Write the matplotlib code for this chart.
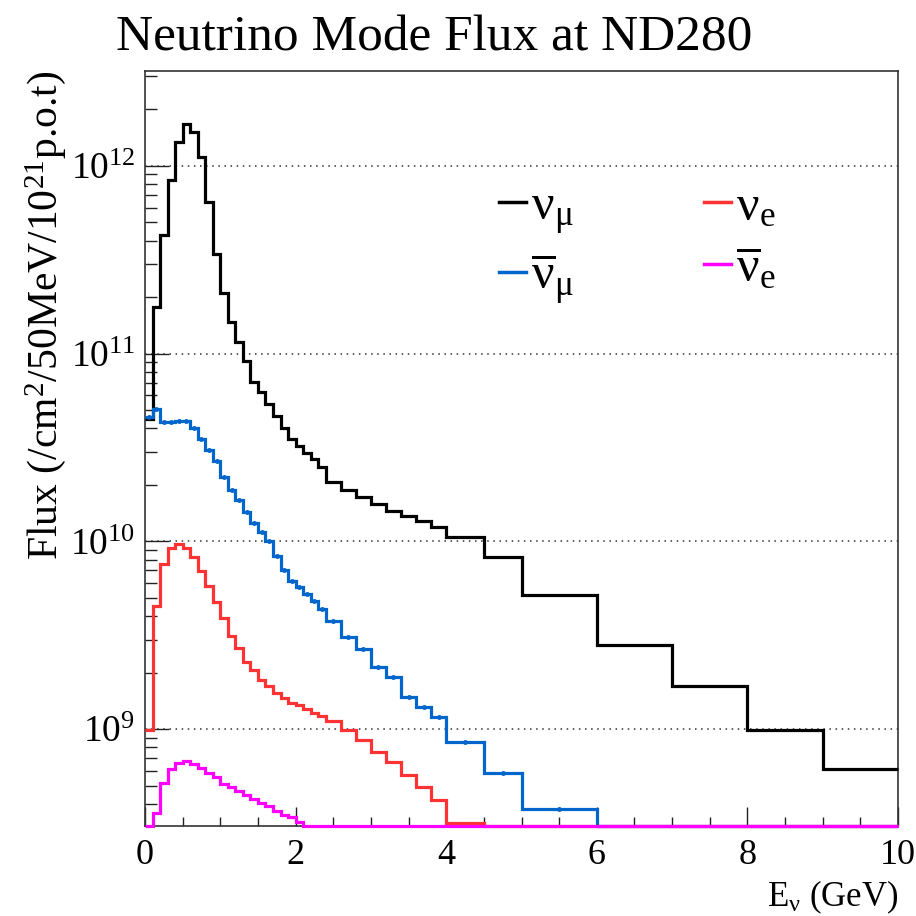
import matplotlib
matplotlib.use("Agg")
import matplotlib.pyplot as plt
from matplotlib.lines import Line2D
from matplotlib.ticker import LogLocator, MultipleLocator, NullFormatter
import numpy as np

plt.rcParams['font.family'] = ['Liberation Serif', 'DejaVu Serif']
plt.rcParams['mathtext.fontset'] = 'custom'
plt.rcParams['mathtext.rm'] = 'Liberation Serif'
plt.rcParams['mathtext.it'] = 'Liberation Serif:italic'

# bin edges (GeV)
edges = [0.0, 0.1, 0.2, 0.3, 0.4, 0.5, 0.6, 0.7, 0.8, 0.9, 1.0, 1.1, 1.2,
         1.3, 1.4, 1.5, 1.6, 1.7, 1.8, 1.9, 2.0, 2.1, 2.2, 2.3, 2.4, 2.6,
         2.8, 3.0, 3.2, 3.4, 3.6, 3.8, 4.0, 4.5, 5.0, 6.0, 7.0, 8.0, 9.0, 10.0]

# flux per bin (/cm2/50MeV/1e21 p.o.t)
numu = [4.46e10, 1.78e11, 4.30e11, 8.43e11, 1.34e12, 1.67e12, 1.52e12, 1.12e12,
        6.44e11, 3.40e11, 2.11e11, 1.48e11, 1.15e11, 9.18e10, 7.10e10, 6.28e10,
        5.36e10, 4.68e10, 4.04e10, 3.53e10, 3.24e10, 2.97e10, 2.76e10, 2.48e10,
        2.06e10, 1.87e10, 1.73e10, 1.59e10, 1.46e10, 1.36e10, 1.28e10, 1.19e10,
        1.06e10, 8.22e9, 5.16e9, 2.80e9, 1.69e9, 9.88e8, 6.12e8]
numubar = [4.57e10, 5.10e10, 4.35e10, 4.30e10, 4.40e10, 4.40e10, 4.04e10, 3.53e10,
           3.05e10, 2.67e10, 2.19e10, 1.87e10, 1.67e10, 1.44e10, 1.26e10, 1.12e10,
           1.00e10, 8.32e9, 7.01e9, 6.13e9, 5.69e9, 5.22e9, 4.80e9, 4.35e9,
           3.75e9, 3.08e9, 2.67e9, 2.14e9, 1.89e9, 1.48e9, 1.32e9, 1.16e9,
           8.53e8, 5.83e8, 3.75e8, 0, 0, 0, 0]
nue = [9.88e8, 4.51e9, 7.55e9, 9.18e9, 9.64e9, 9.18e9, 8.22e9, 6.92e9,
       5.77e9, 4.74e9, 3.89e9, 3.13e9, 2.70e9, 2.27e9, 2.06e9, 1.82e9,
       1.69e9, 1.55e9, 1.46e9, 1.37e9, 1.34e9, 1.28e9, 1.22e9, 1.17e9,
       1.10e9, 9.88e8, 8.73e8, 7.55e8, 6.67e8, 5.69e8, 4.91e8, 4.19e8,
       3.16e8, 0, 0, 0, 0, 0, 0]
nuebar = [0, 3.57e8, 5.16e8, 6.12e8, 6.59e8, 6.76e8, 6.51e8, 6.20e8,
          5.83e8, 5.56e8, 5.10e8, 4.91e8, 4.68e8, 4.46e8, 4.25e8, 4.04e8,
          3.89e8, 3.66e8, 3.49e8, 3.40e8, 3.20e8, 0, 0, 0,
          0, 0, 0, 0, 0, 0, 0, 0,
          0, 0, 0, 0, 0, 0, 0]

colors = ['black', '#0066cc', '#ff3333', '#ff00ff']
labels = [r'$\mathrm{ν}_{\mathrm{μ}}$', r'$\overline{\mathrm{ν}}_{\mathrm{μ}}$',
          r'$\mathrm{ν}_{\mathrm{e}}$', r'$\overline{\mathrm{ν}}_{\mathrm{e}}$']

ymin, ymax = 3.05e8, 3.2e12

fig = plt.figure(figsize=(9.16, 9.16), dpi=100)
ax = fig.add_axes([145/916, 90/916, 753/916, 755/916])

edges = np.array(edges)
for vals, c in zip([numu, numubar, nue, nuebar], colors):
    v = np.array(vals, dtype=float)
    v = np.where(v > 0, v, ymin)  # empty bins sit on the frame, like ROOT
    ax.stairs(v, edges, baseline=None, color=c, lw=2.3, clip_on=False, zorder=3)

# small error markers on the anti-numu histogram
centers = 0.5 * (edges[1:] + edges[:-1])
nb = np.array(numubar)
ax.plot(centers[nb > 0], nb[nb > 0], 'o', ms=2.5, color=colors[1], zorder=3)

ax.set_yscale('log')
ax.set_xlim(0, 10)
ax.set_ylim(ymin, ymax)

ax.xaxis.set_major_locator(MultipleLocator(2))
ax.xaxis.set_minor_locator(MultipleLocator(0.5))
ax.yaxis.set_major_locator(LogLocator(base=10, numticks=10))
ax.yaxis.set_minor_locator(LogLocator(base=10, subs=np.arange(2, 10), numticks=20))
ax.yaxis.set_minor_formatter(NullFormatter())

ax.tick_params(axis='both', which='both', direction='in', top=False, right=False,
               width=1.0, color='#222222')
ax.tick_params(axis='y', which='major', length=17, labelsize=27, pad=7)
ax.tick_params(axis='y', which='minor', length=8.5)
ax.tick_params(axis='x', which='major', length=14, labelsize=26, pad=9)
ax.tick_params(axis='x', which='minor', length=6.5)

for s in ax.spines.values():
    s.set_linewidth(1.2)
    s.set_color('#333333')

ax.grid(True, axis='y', which='major', linestyle=(0, (1, 3)), color='#333333', lw=1.1)

ax.set_ylabel(r'Flux (/cm$^{2}$/50MeV/10$^{21}$p.o.t)', fontsize=30, loc='top')
ax.yaxis.set_label_coords(-0.102, 1.0)
ax.set_xlabel(r'E$_{\mathrm{ν}}$ (GeV)', fontsize=25, loc='right')
ax.xaxis.set_label_coords(1.0, -0.07)

fig.text(434/916, 1 - 38/916, 'Neutrino Mode Flux at ND280', fontsize=37,
         ha='center', va='center')

handles = [Line2D([], [], color=c, lw=2.5) for c in colors]
ax.legend(handles, labels, ncol=2, frameon=False, fontsize=36,
          loc='upper left', bbox_to_anchor=(0.47, 0.85), borderaxespad=0,
          borderpad=0, handlelength=0.55, handletextpad=0.1, columnspacing=2.6,
          labelspacing=0.3)

fig.savefig('out.png', dpi=100)
